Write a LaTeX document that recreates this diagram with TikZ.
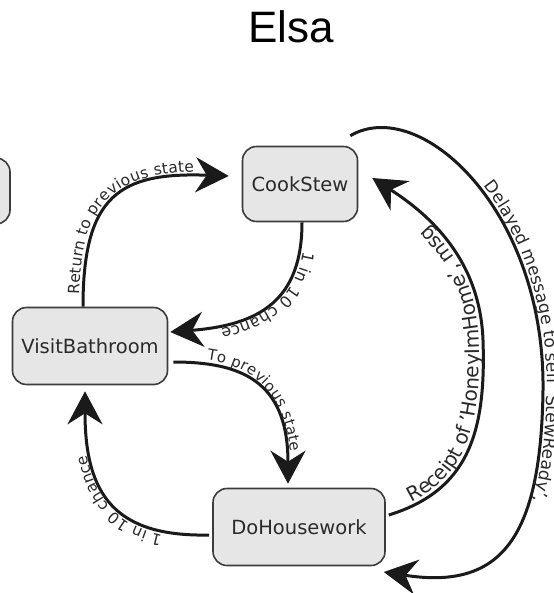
\documentclass[tikz,border=0pt]{standalone}
\usepackage{fontspec}
\setmainfont{DejaVu Sans}
\newfontfamily\titlefont{Liberation Sans}
\usetikzlibrary{arrows.meta,decorations.text,calc}
\definecolor{nodefill}{HTML}{E6E6E6}
\definecolor{nodeline}{HTML}{3C3C3C}
\definecolor{txtcol}{HTML}{2A2A2A}
\definecolor{edgecol}{HTML}{1A1A1A}
\tikzset{
  state/.style={draw=nodeline, fill=nodefill, line width=1.6pt, rounded corners=14pt,
    font=\fontsize{19.5}{22}\selectfont, text=txtcol, inner sep=0pt},
  trans/.style={draw=edgecol, line width=3pt, -{Stealth[length=33pt,width=35pt,inset=11pt]}},
  lbl/.style n args={3}{postaction={decorate, decoration={text along path,
    text={|\fontsize{#1}{#1}\selectfont\color{txtcol}|#3}, raise=4pt,
    text align={left indent=#2pt}}}}
}
\begin{document}
\begin{tikzpicture}[x=1pt,y=-1pt]
\useasboundingbox (0,0) rectangle (553,593);
\clip (0,0) rectangle (553,593);
\fill[white] (0,0) rectangle (553,593);

\node[font=\titlefont\fontsize{44}{50}\selectfont, anchor=base] (title) at (291,43) {Elsa};

\node[state, minimum width=120pt, minimum height=66pt] (prev) at (-50,191) {};
\node[state, minimum width=115pt, minimum height=75pt] (cook) at (300,184) {CookStew};
\node[state, minimum width=155pt, minimum height=77pt] (visit) at (90,346) {VisitBathroom};
\node[state, minimum width=172pt, minimum height=77pt] (house) at (299,527) {DoHousework};

% VisitBathroom -> CookStew
\draw[trans, lbl={15.5}{12}{Return to previous state}]
  ([xshift=-7pt]visit.north) .. controls (83,195) and (120,172) .. ($(cook.west)+(-13,-8)$);
% CookStew -> VisitBathroom
\draw[trans, lbl={16}{28}{1 in 10 chance}]
  ([xshift=2pt]cook.south) .. controls (302,300) and (260,325) .. ($(visit.east)+(2,-14)$);
% VisitBathroom -> DoHousework
\draw[trans, lbl={15}{33}{To previous state}]
  ($(visit.east)+(5,16)$) .. controls (240,362) and (288,380) .. ($(house.north)+(-11,-4)$);
% DoHousework -> VisitBathroom
\draw[trans, lbl={15.5}{46}{1 in 10 chance}]
  ($(house.west)+(-3,8)$) .. controls (115,537) and (85,495) .. ($(visit.south)+(-5,6)$);
% DoHousework -> CookStew
\draw[trans, lbl={20}{26}{Receipt of 'HoneyImHome', msg}]
  ($(house.east)+(3,-12)$) .. controls (470,490) and (486,430) .. (483,340)
  .. controls (480,260) and (430,215) .. ($(cook.east)+(14,-6)$);
% CookStew -> DoHousework
\draw[trans, lbl={17}{152}{Delayed message to self 'StewReady',}]
  ($(cook.north east)+(-8,-10)$) .. controls (420,95) and (545,210) .. (543,390)
  .. controls (541,540) and (500,590) .. ($(house.east)+(-2,45)$);
\end{tikzpicture}
\end{document}
